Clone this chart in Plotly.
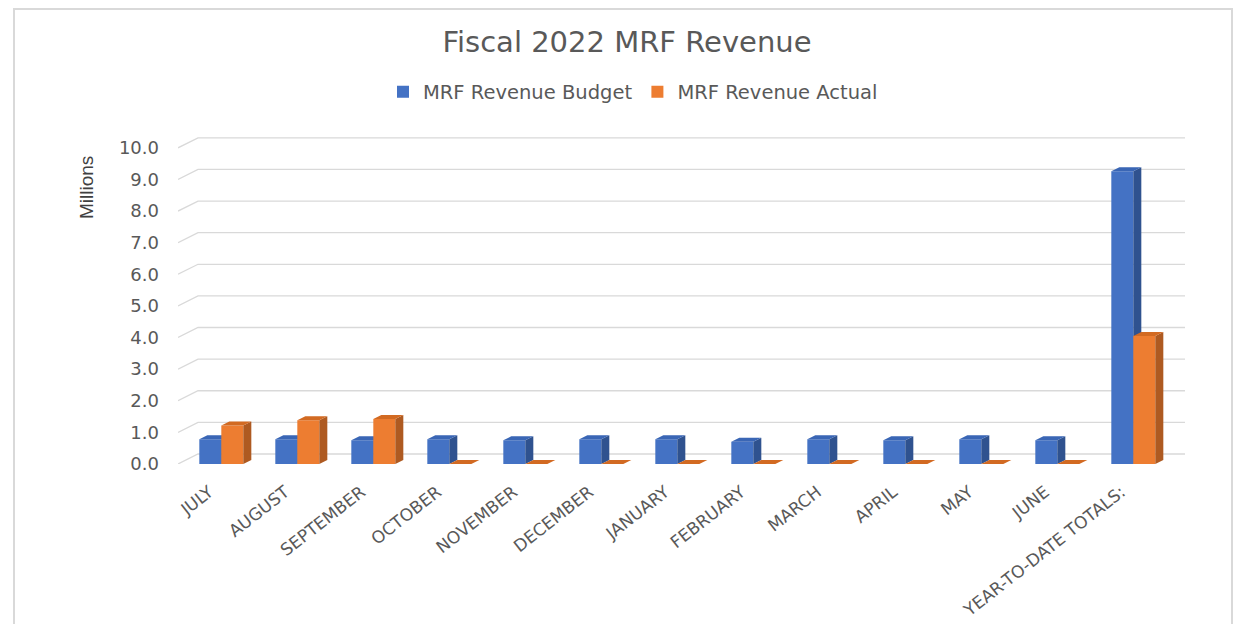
import plotly.graph_objects as go

categories = ["JULY", "AUGUST", "SEPTEMBER", "OCTOBER", "NOVEMBER", "DECEMBER",
              "JANUARY", "FEBRUARY", "MARCH", "APRIL", "MAY", "JUNE",
              "YEAR-TO-DATE TOTALS:"]
budget = [0.78, 0.78, 0.75, 0.78, 0.75, 0.78, 0.78, 0.70, 0.78, 0.75, 0.78, 0.75, 9.26]
actual = [1.22, 1.38, 1.42, 0, 0, 0, 0, 0, 0, 0, 0, 0, 4.05]
y_ticks = [0, 1, 2, 3, 4, 5, 6, 7, 8, 9, 10]
y_ticktext = ["%.1f" % v for v in y_ticks]

series = [
    ("MRF Revenue Budget", budget, -1, "#4472C4", "#2F528F", "#3A66B5"),
    ("MRF Revenue Actual", actual, 0, "#ED7D31", "#AE5A21", "#D26A22"),
]

OFF = 8  # page body margin
W = 1241 - 2 * OFF
H = 632 - 2 * OFF
ML = 178 - OFF
MT = 124
pw, ph = 1007, 332
MR = W - ML - pw
MB = H - MT - ph
XR = [-0.57, 12.68]
YR = [0, 10.5]
xu = pw / (XR[1] - XR[0])
yu = ph / (YR[1] - YR[0])

bw = 22 / xu          # bar width in category units
ddx = 8 / xu          # bar depth offset
ddy = 4 / yu
gdx = 20 / xu         # grid back-wall offset
gdy = 10 / yu

fig = go.Figure()

# back-wall gridlines with floor diagonal
gx, gy = [], []
for v in y_ticks:
    gx += [XR[0], XR[0] + gdx, XR[1], None]
    gy += [v, v + gdy, v + gdy, None]
fig.add_trace(go.Scatter(x=gx, y=gy, mode="lines", line=dict(color="#D9D9D9", width=1.3),
                         hoverinfo="skip", showlegend=False))

for name, vals, off, c_front, c_side, c_top in series:
    fx, fy, sx, sy, tx, ty = [], [], [], [], [], []
    for i, v in enumerate(vals):
        xl = i + off * bw
        xr = xl + bw
        fx += [xl, xr, xr, xl, xl, None]
        fy += [0, 0, v, v, 0, None]
        sx += [xr, xr + ddx, xr + ddx, xr, xr, None]
        sy += [0, ddy, v + ddy, v, 0, None]
        tx += [xl, xr, xr + ddx, xl + ddx, xl, None]
        ty += [v, v, v + ddy, v + ddy, v, None]
    fig.add_trace(go.Scatter(x=fx, y=fy, fill="toself", fillcolor=c_front, mode="lines",
                             line=dict(width=0, color=c_front), name=name, showlegend=False,
                             legendgroup=name, hoverinfo="skip"))
    fig.add_trace(go.Scatter(x=sx, y=sy, fill="toself", fillcolor=c_side, mode="lines",
                             line=dict(width=0, color=c_side), showlegend=False,
                             legendgroup=name, hoverinfo="skip"))
    fig.add_trace(go.Scatter(x=tx, y=ty, fill="toself", fillcolor=c_top, mode="lines",
                             line=dict(width=0, color=c_top), showlegend=False,
                             legendgroup=name, hoverinfo="skip"))
    # legend key (square swatch)
    fig.add_trace(go.Scatter(x=[None], y=[None], mode="markers", name=name, legendgroup=name,
                             marker=dict(symbol="square", size=10, color=c_front),
                             showlegend=True, hoverinfo="skip"))


def px_to_paper_x(px):
    return (px - OFF - ML) / pw


def px_to_paper_y(py):
    return (H - MB - (py - OFF)) / ph


FONT = "DejaVu Sans"
fig.update_layout(
    width=W, height=H,
    margin=dict(l=ML, r=MR, t=MT, b=MB),
    paper_bgcolor="white", plot_bgcolor="white",
    font=dict(family=FONT, color="#595959"),
    title=dict(text="Fiscal 2022 MRF Revenue", x=(627 - OFF) / W, xref="container", xanchor="center",
               y=1 - (42 - OFF) / H, yref="container", yanchor="middle",
               font=dict(size=29, color="#595959", family=FONT)),
    legend=dict(orientation="h", xref="container", x=(633 - OFF) / W, xanchor="center",
                yref="container", y=1 - (92 - OFF) / H, yanchor="middle",
                font=dict(size=19.5, color="#595959", family=FONT), itemwidth=30,
                traceorder="normal", itemsizing="constant"),
    xaxis=dict(range=XR, tickmode="array", tickvals=list(range(len(categories))),
               ticktext=categories, tickangle=-38, showgrid=False, zeroline=False,
               showline=False, ticks="", tickfont=dict(size=17, color="#595959", family=FONT),
               ticklabelstandoff=14, ticklabelshift=-12, fixedrange=True, automargin=False),
    yaxis=dict(range=YR, tickmode="array", tickvals=y_ticks, ticktext=y_ticktext,
               showgrid=False, zeroline=False, showline=False, ticks="",
               tickfont=dict(size=18, color="#595959", family=FONT), ticklabelstandoff=18,
               fixedrange=True, automargin=False),
    showlegend=True,
    annotations=[dict(text="Millions", xref="paper", yref="paper",
                      x=px_to_paper_x(86), y=px_to_paper_y(188), textangle=-90,
                      showarrow=False, xanchor="center", yanchor="middle",
                      font=dict(size=19, color="#404040", family="Liberation Sans"))],
    shapes=[dict(type="rect", xref="paper", yref="paper",
                 x0=px_to_paper_x(14), x1=px_to_paper_x(1232),
                 y0=px_to_paper_y(680), y1=px_to_paper_y(9),
                 line=dict(color="#D9D9D9", width=2), fillcolor="rgba(0,0,0,0)", layer="below")],
)

fig.write_html("out.html")
